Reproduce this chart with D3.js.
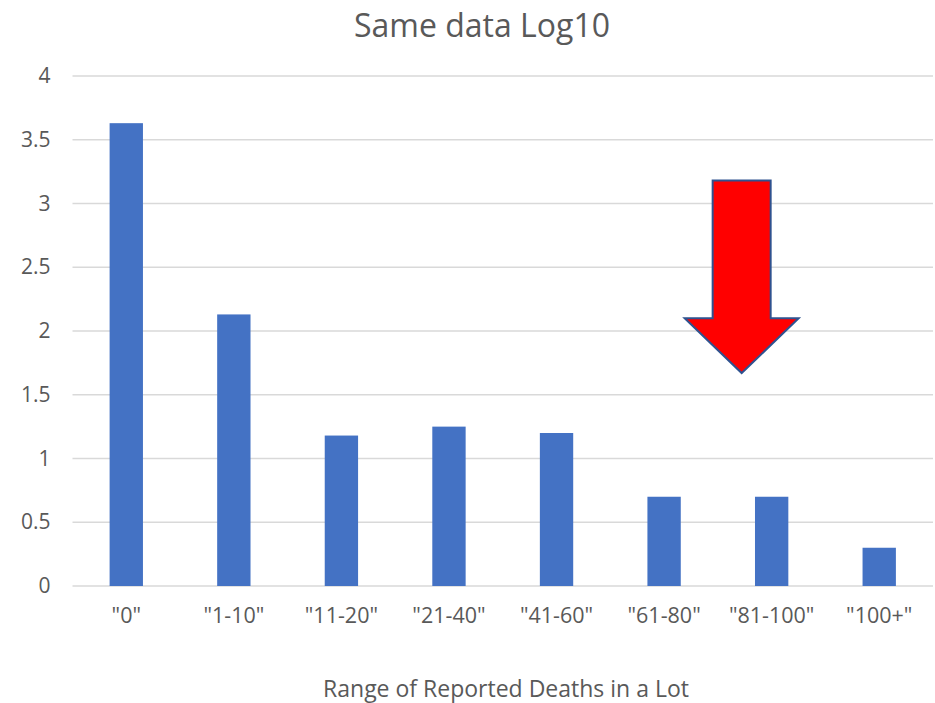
<!DOCTYPE html>
<html>
<head>
<meta charset="utf-8">
<script src="https://cdn.jsdelivr.net/npm/d3@7"></script>
<style>
  body { margin: 0; background: #fff; }
  text { font-family: "Open Sans", Lato, sans-serif; fill: #595959; }
</style>
</head>
<body>
<div id="body"></div>
<script>
var categories = ['"0"', '"1-10"', '"11-20"', '"21-40"', '"41-60"', '"61-80"', '"81-100"', '"100+"'];
var values = [3.63, 2.13, 1.18, 1.25, 1.2, 0.7, 0.7, 0.3];
var yTicks = [0, 0.5, 1, 1.5, 2, 2.5, 3, 3.5, 4];

var margin = {top: 76, right: 2, bottom: 117, left: 72.5},
width = 935 - margin.left - margin.right,
height = 703 - margin.top - margin.bottom;

var svg = d3.select("#body")
.append("svg")
.attr("width", width + margin.left + margin.right)
.attr("height", height + margin.top + margin.bottom);

var chart = svg.append("g")
.attr("transform", "translate(" + margin.left + "," + margin.top + ")");

var x = d3.scaleBand()
.domain(categories)
.range([0, width])
.paddingInner(0.69)
.paddingOuter(0.345);

var y = d3.scaleLinear()
.domain([0, 4])
.range([height, 0]);

// gridlines
chart.append("g")
  .selectAll("line")
  .data(yTicks)
  .enter().append("line")
  .attr("x1", 0)
  .attr("x2", width)
  .attr("y1", function(d) { return y(d); })
  .attr("y2", function(d) { return y(d); })
  .attr("stroke", "#d9d9d9")
  .attr("stroke-width", 1.3);

// y tick labels
var leftAxis = d3.axisLeft(y).tickValues(yTicks).tickFormat(d3.format("")).tickSize(0).tickPadding(22);
chart.append("g")
  .call(leftAxis)
  .call(function(g) { g.select(".domain").remove(); })
  .selectAll("text")
  .style("font-size", "21px")
  .attr("fill", "#595959");

// bars
chart.selectAll("rect.bar")
  .data(values)
  .enter().append("rect")
  .attr("class", "bar")
  .attr("x", function(d, i) { return x(categories[i]); })
  .attr("width", x.bandwidth())
  .attr("y", function(d) { return y(d); })
  .attr("height", function(d) { return height - y(d); })
  .attr("fill", "#4472c4");

// x tick labels
var bottomAxis = d3.axisBottom(x).tickSize(0).tickPadding(22);
chart.append("g")
  .attr("transform", `translate(0, ${height})`)
  .call(bottomAxis)
  .call(function(g) { g.select(".domain").remove(); })
  .selectAll("text")
  .style("font-size", "21.5px")
  .attr("fill", "#595959");

// red arrow annotation
var ax = x('"81-100"') + x.bandwidth() / 2 - 30;
var arrow = [
  [ax - 29, y(3.18)], [ax + 29, y(3.18)], [ax + 29, y(2.1)], [ax + 57, y(2.1)],
  [ax, y(1.67)], [ax - 57, y(2.1)], [ax - 29, y(2.1)]
];
chart.append("path")
  .attr("d", d3.line()(arrow) + "Z")
  .attr("fill", "#ff0000")
  .attr("stroke", "#2f528f")
  .attr("stroke-width", 2)
  .attr("stroke-linejoin", "miter");

svg.append("text")
  .attr("x", 482)
  .attr("y", 37)
  .attr("text-anchor", "middle")
  .style("font-size", "32px")
  .text("Same data Log10");

svg.append("text")
  .attr("x", 506)
  .attr("y", 697)
  .attr("text-anchor", "middle")
  .style("font-size", "23px")
  .text("Range of Reported Deaths in a Lot");
</script>
</body>
</html>
